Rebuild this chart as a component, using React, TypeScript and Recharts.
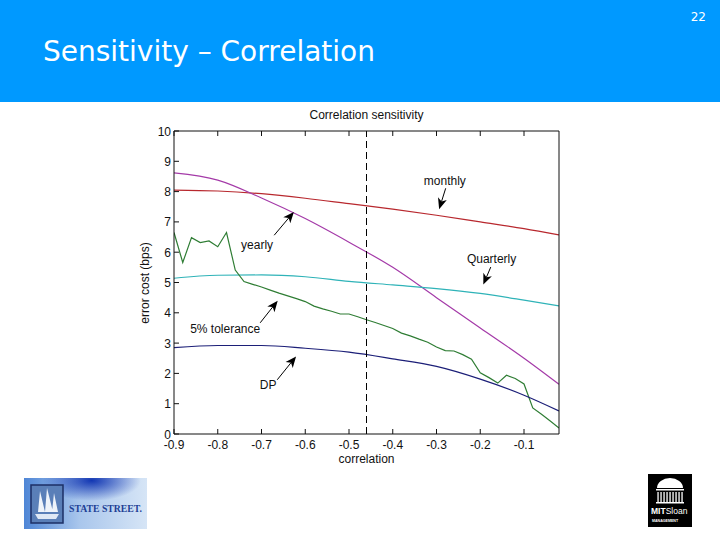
import React from "react";
import {
  LineChart,
  Line,
  XAxis,
  YAxis,
  ReferenceLine,
  ReferenceDot,
} from "recharts";

// smooth curves, read every 0.1 of correlation
const corrCoarse = [-0.9, -0.8, -0.7, -0.6, -0.5, -0.4, -0.3, -0.2, -0.1, -0.02];
const monthly = [8.05, 8.02, 7.93, 7.78, 7.6, 7.42, 7.22, 7.0, 6.78, 6.57];
const yearly = [8.62, 8.38, 7.79, 7.11, 6.33, 5.5, 4.5, 3.5, 2.5, 1.64];
const quarterly = [5.14, 5.24, 5.25, 5.19, 5.04, 4.92, 4.8, 4.64, 4.42, 4.23];
const dp = [2.85, 2.92, 2.92, 2.83, 2.7, 2.48, 2.23, 1.81, 1.28, 0.76];

// jagged 5% tolerance curve, read every 0.02
const corrFine = [
  -0.9, -0.88, -0.86, -0.84, -0.82, -0.8, -0.78, -0.76, -0.74, -0.72, -0.7,
  -0.68, -0.66, -0.64, -0.62, -0.6, -0.58, -0.56, -0.54, -0.52, -0.5, -0.48,
  -0.46, -0.44, -0.42, -0.4, -0.38, -0.36, -0.34, -0.32, -0.3, -0.28, -0.26,
  -0.24, -0.22, -0.2, -0.18, -0.16, -0.14, -0.12, -0.1, -0.08, -0.06, -0.04,
  -0.02,
];
const tolerance5 = [
  6.65, 5.66, 6.48, 6.32, 6.37, 6.18, 6.65, 5.41, 5.03, 4.94, 4.85, 4.75, 4.65,
  4.56, 4.47, 4.37, 4.22, 4.13, 4.05, 3.96, 3.96, 3.87, 3.77, 3.68, 3.58, 3.48,
  3.33, 3.24, 3.13, 3.03, 2.87, 2.75, 2.74, 2.62, 2.47, 2.02, 1.86, 1.68, 1.94,
  1.83, 1.65, 0.86, 0.65, 0.43, 0.2,
];

const xTicks = [-0.9, -0.8, -0.7, -0.6, -0.5, -0.4, -0.3, -0.2, -0.1];
const yTicks = [0, 1, 2, 3, 4, 5, 6, 7, 8, 9, 10];
const cutoffCorr = -0.46;

// annotation text + arrows, in data units
const noteLabels = ["monthly", "yearly", "Quarterly", "5% tolerance", "DP"];
const noteTextAt = [
  [-0.281, 8.35],
  [-0.71, 6.27],
  [-0.174, 5.79],
  [-0.783, 3.47],
  [-0.685, 1.63],
];
const noteArrowFrom = [
  [-0.279, 8.11],
  [-0.671, 6.56],
  [-0.176, 5.51],
  [-0.703, 3.67],
  [-0.664, 1.79],
];
const noteArrowTo = [
  [-0.294, 7.42],
  [-0.626, 7.33],
  [-0.193, 4.93],
  [-0.663, 4.4],
  [-0.621, 2.56],
];

const toPts = (xs: number[], ys: number[]) => xs.map((x, i) => ({ x, y: ys[i] }));

const FONT = "'Liberation Sans', Arial, sans-serif";
const M = 3;

const BottomTick = ({ x, y, payload }: any) => (
  <g>
    <line x1={x} x2={x} y1={y - M} y2={y - M - 5} stroke="#111" />
    <text x={x} y={y + 12} textAnchor="middle" fontSize={12} fontFamily={FONT} fill="#111">
      {payload.value.toFixed(1)}
    </text>
  </g>
);
const TopTick = ({ x, y }: any) => (
  <line x1={x} x2={x} y1={y + M} y2={y + M + 5} stroke="#111" />
);
const LeftTick = ({ x, y, payload }: any) => (
  <g>
    <line x1={x + M} x2={x + M + 5} y1={y} y2={y} stroke="#111" />
    <text x={x} y={y + 4.5} textAnchor="end" fontSize={12} fontFamily={FONT} fill="#111">
      {payload.value}
    </text>
  </g>
);
const RightTick = ({ x, y }: any) => (
  <line x1={x - M} x2={x - M - 5} y1={y} y2={y} stroke="#111" />
);

const Arrow = ({ x1, y1, x2, y2 }: any) => {
  const dx = x2 - x1;
  const dy = y2 - y1;
  const len = Math.sqrt(dx * dx + dy * dy) || 1;
  const ux = dx / len;
  const uy = dy / len;
  const L = 11;
  const W = 4.6;
  const bx = x2 - ux * L;
  const by = y2 - uy * L;
  const nx = bx + ux * 3;
  const ny = by + uy * 3;
  return (
    <g>
      <line x1={x1} y1={y1} x2={nx} y2={ny} stroke="#000" strokeWidth={1} />
      <polygon
        points={`${x2},${y2} ${bx - uy * W},${by + ux * W} ${nx},${ny} ${bx + uy * W},${by - ux * W}`}
        fill="#000"
      />
    </g>
  );
};

const StateStreetLogo = () => (
  <svg width={160} height={51} style={{ position: "absolute", left: 24, top: 478, overflow: "visible" }}>
    <defs>
      <linearGradient id="ssBg" x1="0" y1="0" x2="1" y2="0">
        <stop offset="0" stopColor="#4f86d6" />
        <stop offset="0.45" stopColor="#a9c6ec" />
        <stop offset="1" stopColor="#d6e5f6" />
      </linearGradient>
      <radialGradient id="ssBlob" cx="0.55" cy="0.05" r="0.4">
        <stop offset="0" stopColor="#0a2fb0" stopOpacity={0.95} />
        <stop offset="1" stopColor="#0a2fb0" stopOpacity={0} />
      </radialGradient>
    </defs>
    <rect width={123} height={51} fill="url(#ssBg)" />
    <rect width={123} height={51} fill="url(#ssBlob)" />
    <rect x={7} y={7} width={32} height={38} fill="#5a7fb8" stroke="#1c2f66" strokeWidth={1.5} />
    <path d="M11 36 L35 36 L32 41 L14 41 Z" fill="#dfe8f5" />
    <path d="M14 34 L16 13 L21 34 Z M21 34 L23 10 L29 34 Z M28 34 L30 15 L34 34 Z" fill="#eef3fa" />
    <text
      x={45}
      y={34}
      fontSize={11}
      fontFamily="'Liberation Serif', serif"
      fill="#1d3f95"
      fontWeight={700}
      textLength={73}
      lengthAdjust="spacingAndGlyphs"
    >
      STATE STREET.
    </text>
  </svg>
);

const MitLogo = () => (
  <svg width={44} height={53} style={{ position: "absolute", left: 648, top: 474 }}>
    <rect width={44} height={53} fill="#000" />
    <path d="M9 14 A13 10 0 0 1 35 14 Z" fill="#fff" />
    <rect x={8} y={15} width={28} height={1.5} fill="#fff" />
    {[10, 13, 16, 19, 22, 25, 28, 31, 34].map((cx) => (
      <rect key={cx} x={cx - 0.6} y={18} width={1.3} height={10} fill="#fff" />
    ))}
    <rect x={8} y={28} width={28} height={1.5} fill="#fff" />
    <text x={3} y={40} fontSize={8.5} fontFamily={FONT} fontWeight={700} fill="#fff">
      MIT<tspan fontWeight={400}>Sloan</tspan>
    </text>
    <text x={4} y={48} fontSize={3.6} fontFamily={FONT} fontWeight={700} fill="#fff">
      MANAGEMENT
    </text>
  </svg>
);

export default function App() {
  return (
    <div
      style={{
        position: "absolute",
        left: 0,
        top: 0,
        width: 720,
        height: 540,
        background: "#fff",
        overflow: "hidden",
      }}
    >
      <div style={{ position: "absolute", left: 0, top: 0, width: 720, height: 102, background: "#0099ff" }} />
      <div
        style={{
          position: "absolute",
          left: 43,
          top: 34,
          fontFamily: "'DejaVu Sans', Verdana, sans-serif",
          fontSize: 28,
          color: "#fff",
          whiteSpace: "nowrap",
          lineHeight: "36px",
        }}
      >
        Sensitivity – Correlation
      </div>
      <div
        style={{
          position: "absolute",
          right: 14,
          top: 10,
          fontFamily: "'DejaVu Sans', Verdana, sans-serif",
          fontSize: 12,
          color: "#fff",
        }}
      >
        22
      </div>

      <div style={{ position: "absolute", left: 108, top: 102, width: 498, height: 370 }}>
        <LineChart
          width={498}
          height={370}
          margin={{ top: 28, right: 46, bottom: 18, left: 26 }}
        >
          <XAxis
            xAxisId="b"
            type="number"
            dataKey="x"
            domain={[-0.9, -0.02]}
            ticks={xTicks}
            allowDataOverflow
            orientation="bottom"
            height={20}
            tickLine={false}
            tickSize={0}
            tickMargin={M}
            tick={<BottomTick />}
            axisLine={{ stroke: "#111" }}
            interval={0}
          />
          <XAxis
            xAxisId="t"
            type="number"
            dataKey="x"
            domain={[-0.9, -0.02]}
            ticks={xTicks}
            allowDataOverflow
            orientation="top"
            height={1}
            tickLine={false}
            tickSize={0}
            tickMargin={M}
            tick={<TopTick />}
            axisLine={{ stroke: "#111" }}
            interval={0}
          />
          <YAxis
            yAxisId="l"
            type="number"
            domain={[0, 10]}
            ticks={yTicks}
            orientation="left"
            width={40}
            tickLine={false}
            tickSize={0}
            tickMargin={M}
            tick={<LeftTick />}
            axisLine={{ stroke: "#111" }}
            interval={0}
          />
          <YAxis
            yAxisId="r"
            type="number"
            domain={[0, 10]}
            ticks={yTicks}
            orientation="right"
            width={1}
            tickLine={false}
            tickSize={0}
            tickMargin={M}
            tick={<RightTick />}
            axisLine={{ stroke: "#111" }}
            interval={0}
          />

          <Line data={toPts(corrCoarse, monthly)} xAxisId="b" yAxisId="l" dataKey="y" type="monotone"
            stroke="#b8282e" strokeWidth={1.2} dot={false} isAnimationActive={false} />
          <Line data={toPts(corrCoarse, yearly)} xAxisId="b" yAxisId="l" dataKey="y" type="monotone"
            stroke="#a43aa8" strokeWidth={1.2} dot={false} isAnimationActive={false} />
          <Line data={toPts(corrCoarse, quarterly)} xAxisId="b" yAxisId="l" dataKey="y" type="monotone"
            stroke="#2fb3b8" strokeWidth={1.2} dot={false} isAnimationActive={false} />
          <Line data={toPts(corrFine, tolerance5)} xAxisId="b" yAxisId="l" dataKey="y" type="linear"
            stroke="#2f7d34" strokeWidth={1.2} dot={false} isAnimationActive={false} />
          <Line data={toPts(corrCoarse, dp)} xAxisId="b" yAxisId="l" dataKey="y" type="monotone"
            stroke="#1c1f78" strokeWidth={1.2} dot={false} isAnimationActive={false} />

          <ReferenceLine xAxisId="b" yAxisId="l" x={cutoffCorr} stroke="#000" strokeDasharray="7 4" strokeWidth={1} />

          {noteLabels.map((lab, i) => (
            <ReferenceLine
              key={"a" + i}
              xAxisId="b"
              yAxisId="l"
              segment={[
                { x: noteArrowFrom[i][0], y: noteArrowFrom[i][1] },
                { x: noteArrowTo[i][0], y: noteArrowTo[i][1] },
              ]}
              shape={(p: any) => <Arrow {...p} />}
            />
          ))}
          {noteLabels.map((lab, i) => (
            <ReferenceDot
              key={"t" + i}
              xAxisId="b"
              yAxisId="l"
              x={noteTextAt[i][0]}
              y={noteTextAt[i][1]}
              r={0}
              shape={(p: any) => (
                <text x={p.cx} y={p.cy + 4.5} textAnchor="middle" fontSize={12} fontFamily={FONT} fill="#111">
                  {lab}
                </text>
              )}
            />
          ))}
        </LineChart>
      </div>

      <div style={{ position: "absolute", left: 174, width: 385, top: 108, textAlign: "center", fontFamily: FONT, fontSize: 12, color: "#111" }}>
        Correlation sensitivity
      </div>
      <div style={{ position: "absolute", left: 174, width: 385, top: 452, textAlign: "center", fontFamily: FONT, fontSize: 12, color: "#111" }}>
        correlation
      </div>
      <div
        style={{
          position: "absolute",
          left: 145,
          top: 283,
          transform: "translate(-50%, -50%) rotate(-90deg)",
          fontFamily: FONT,
          fontSize: 12,
          color: "#111",
          whiteSpace: "nowrap",
        }}
      >
        error cost (bps)
      </div>

      <StateStreetLogo />
      <MitLogo />
    </div>
  );
}
